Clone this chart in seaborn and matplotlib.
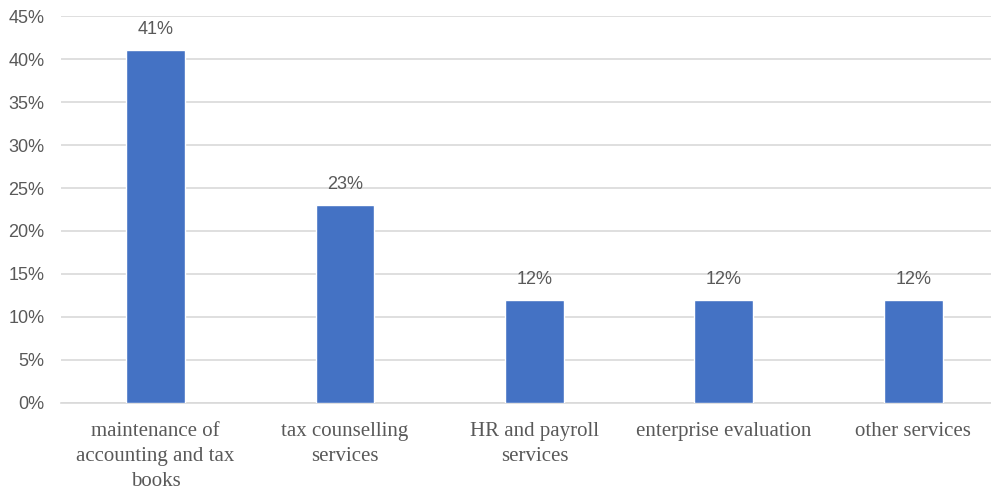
import matplotlib
matplotlib.use("Agg")
import matplotlib.pyplot as plt
import seaborn as sns
import pandas as pd
from matplotlib.ticker import MultipleLocator, FuncFormatter

categories = [
    "maintenance of\naccounting and tax\nbooks",
    "tax counselling\nservices",
    "HR and payroll\nservices",
    "enterprise evaluation",
    "other services",
]
shares = [41, 23, 12, 12, 12]

df = pd.DataFrame({"category": categories, "share": shares})

sns.set_theme(style="white")
plt.rcParams["font.family"] = ["Liberation Sans", "DejaVu Sans"]

fig = plt.figure(figsize=(9.91, 4.90), dpi=100)
ax = fig.add_axes([0.0615, 0.1776, 0.9556, 0.7897])

sns.barplot(data=df, x="category", y="share", color="#4472C4",
            width=0.31, saturation=1, ax=ax, zorder=3)

ax.set_xlim(-0.5, len(categories) - 0.5)
ax.set_ylim(0, 45)
ax.yaxis.set_major_locator(MultipleLocator(5))
ax.yaxis.set_major_formatter(FuncFormatter(lambda v, p: f"{v:.0f}%"))
ax.grid(axis="y", color="#D9D9D9", linewidth=1.2, zorder=0)
ax.set_axisbelow(True)
ax.set_xlabel("")
ax.set_ylabel("")

for s in ["top", "right", "left"]:
    ax.spines[s].set_visible(False)
ax.spines["bottom"].set_color("#D9D9D9")
ax.spines["bottom"].set_linewidth(1.2)

ax.tick_params(axis="both", length=0)
ax.tick_params(axis="y", labelsize=13, labelcolor="#595959", pad=12)
for lab in ax.get_xticklabels():
    lab.set_fontfamily(["Liberation Serif", "DejaVu Serif"])
    lab.set_fontsize(15)
    lab.set_color("#595959")
    lab.set_linespacing(1.4)
ax.tick_params(axis="x", pad=14)

for i, v in enumerate(shares):
    ax.text(i, v + 1.4, f"{v}%", ha="center", va="bottom",
            fontsize=13, color="#595959")

fig.savefig("out.png", dpi=100, facecolor="white")
